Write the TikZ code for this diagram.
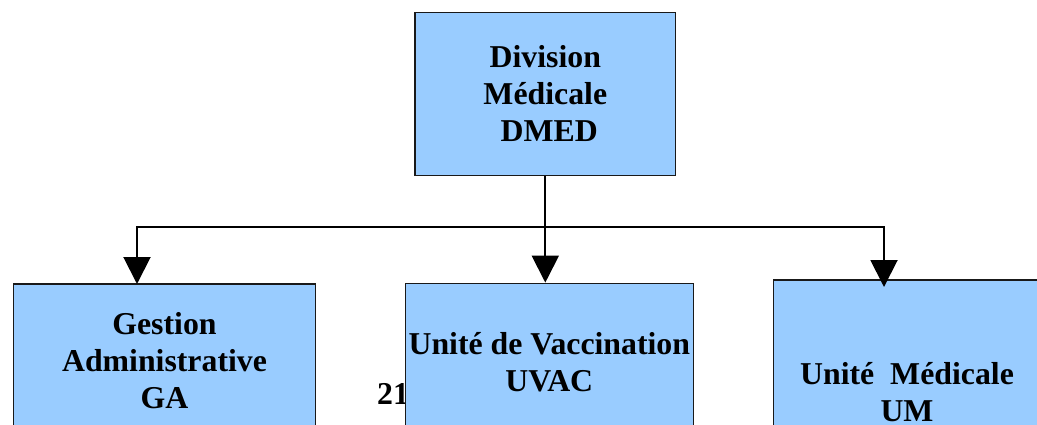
\documentclass[tikz,border=0pt]{standalone}
\usepackage{fontspec}
\setmainfont{Liberation Serif}
\usetikzlibrary{arrows.meta}
\definecolor{boxblue}{HTML}{99CCFF}
\begin{document}
\begin{tikzpicture}[x=1pt,y=-1pt,
  txt/.style={font=\fontsize{31.8}{37}\selectfont\bfseries},
  unit/.style={txt,draw=black!90,line width=1.4pt,fill=boxblue,inner sep=0pt,align=center},
  wire/.style={line width=2pt},
  link/.style={line width=2pt,-{Triangle[width=27pt,length=27pt]}}]
\useasboundingbox (0,0) rectangle (1037,425);
\clip (0,0) rectangle (1037,425);
\node[txt,anchor=base west,inner sep=0pt] (pg) at (377,404) {21};
\node[unit,minimum width=260.5pt,minimum height=163.4pt] (dmed) at (545.3,94) {Division\\Médicale\\\ DMED};
\node[unit,minimum width=302.4pt,minimum height=154pt] (ga) at (164.5,361) {Gestion\\Administrative\\GA};
\node[unit,minimum width=288pt,minimum height=158pt] (uvac) at (549.3,362.3) {Unité de Vaccination\\UVAC};
\node[unit,minimum width=267.4pt,minimum height=225pt] (um) at (907,392.5) {Unité\ \ Médicale\\UM};
\coordinate (bus) at (546.7,227.5);
\coordinate (gaIn) at (137,284);
\coordinate (umIn) at (884,287);
\draw[wire] (dmed.south) -- (dmed.south |- bus);
\draw[link] (dmed.south |- bus) -| (gaIn);
\draw[link] (dmed.south |- bus) -| (umIn);
\draw[link] (dmed.south |- bus) -- (dmed.south |- uvac.north);
\end{tikzpicture}
\end{document}
